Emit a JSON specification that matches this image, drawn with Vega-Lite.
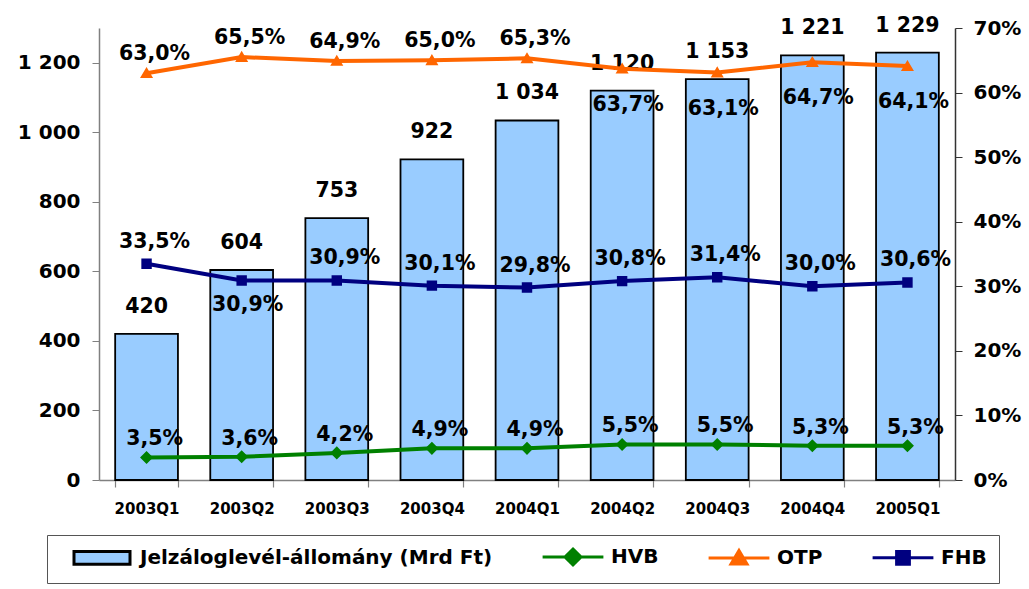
{
  "$schema": "https://vega.github.io/schema/vega-lite/v6.json",
  "width": 856,
  "height": 452,
  "autosize": {"type": "none"},
  "padding": {"left": 99, "top": 28, "right": 74, "bottom": 109},
  "background": "white",
  "config": {
    "locale": {"number": {"decimal": ",", "thousands": " ", "grouping": [3], "currency": ["", ""]}},
    "view": {"stroke": null},
    "font": "DejaVu Sans",
    "axis": {"labelFont": "DejaVu Sans", "labelFontWeight": "bold", "labelColor": "black", "grid": false, "title": null},
    "text": {"font": "DejaVu Sans", "fontWeight": "bold", "fontSize": 20.5, "color": "black"}
  },
  "datasets": {
    "stock": [
      {"quarter": "2003Q1", "series": "Jelzáloglevél-állomány (Mrd Ft)", "value": 420},
      {"quarter": "2003Q2", "series": "Jelzáloglevél-állomány (Mrd Ft)", "value": 604},
      {"quarter": "2003Q3", "series": "Jelzáloglevél-állomány (Mrd Ft)", "value": 753},
      {"quarter": "2003Q4", "series": "Jelzáloglevél-állomány (Mrd Ft)", "value": 922},
      {"quarter": "2004Q1", "series": "Jelzáloglevél-állomány (Mrd Ft)", "value": 1034},
      {"quarter": "2004Q2", "series": "Jelzáloglevél-állomány (Mrd Ft)", "value": 1120},
      {"quarter": "2004Q3", "series": "Jelzáloglevél-állomány (Mrd Ft)", "value": 1153},
      {"quarter": "2004Q4", "series": "Jelzáloglevél-állomány (Mrd Ft)", "value": 1221},
      {"quarter": "2005Q1", "series": "Jelzáloglevél-állomány (Mrd Ft)", "value": 1229}
    ],
    "share": [
      {"quarter": "2003Q1", "series": "OTP", "value": 0.630},
      {"quarter": "2003Q2", "series": "OTP", "value": 0.655},
      {"quarter": "2003Q3", "series": "OTP", "value": 0.649},
      {"quarter": "2003Q4", "series": "OTP", "value": 0.650},
      {"quarter": "2004Q1", "series": "OTP", "value": 0.653},
      {"quarter": "2004Q2", "series": "OTP", "value": 0.637},
      {"quarter": "2004Q3", "series": "OTP", "value": 0.631},
      {"quarter": "2004Q4", "series": "OTP", "value": 0.647},
      {"quarter": "2005Q1", "series": "OTP", "value": 0.641},
      {"quarter": "2003Q1", "series": "FHB", "value": 0.335},
      {"quarter": "2003Q2", "series": "FHB", "value": 0.309},
      {"quarter": "2003Q3", "series": "FHB", "value": 0.309},
      {"quarter": "2003Q4", "series": "FHB", "value": 0.301},
      {"quarter": "2004Q1", "series": "FHB", "value": 0.298},
      {"quarter": "2004Q2", "series": "FHB", "value": 0.308},
      {"quarter": "2004Q3", "series": "FHB", "value": 0.314},
      {"quarter": "2004Q4", "series": "FHB", "value": 0.300},
      {"quarter": "2005Q1", "series": "FHB", "value": 0.306},
      {"quarter": "2003Q1", "series": "HVB", "value": 0.035},
      {"quarter": "2003Q2", "series": "HVB", "value": 0.036},
      {"quarter": "2003Q3", "series": "HVB", "value": 0.042},
      {"quarter": "2003Q4", "series": "HVB", "value": 0.049},
      {"quarter": "2004Q1", "series": "HVB", "value": 0.049},
      {"quarter": "2004Q2", "series": "HVB", "value": 0.055},
      {"quarter": "2004Q3", "series": "HVB", "value": 0.055},
      {"quarter": "2004Q4", "series": "HVB", "value": 0.053},
      {"quarter": "2005Q1", "series": "HVB", "value": 0.053}
    ]
  },
  "encoding": {
    "x": {
      "field": "quarter",
      "type": "ordinal",
      "scale": {"paddingInner": 0.34, "paddingOuter": 0.17},
      "axis": {"orient": "bottom", "labelAngle": 0, "labelFontSize": 15, "tickBand": "extent", "tickSize": 7, "labelPadding": 14, "domainColor": "#808080", "tickColor": "#808080", "domainWidth": 1.5, "tickWidth": 1.2}
    }
  },
  "layer": [
    {
      "data": {"name": "stock"},
      "encoding": {
        "y": {
          "field": "value",
          "type": "quantitative",
          "scale": {"domain": [0, 1300], "nice": false},
          "axis": {"orient": "left", "values": [0, 200, 400, 600, 800, 1000, 1200], "format": ",.0f", "labelFontSize": 20, "domainColor": "#808080", "tickColor": "#808080", "tickSize": 7, "labelPadding": 12, "domainWidth": 1.5}
        }
      },
      "layer": [
        {
          "mark": {"type": "bar", "stroke": "black", "strokeWidth": 1.8},
          "encoding": {
            "fill": {
              "field": "series",
              "type": "nominal",
              "scale": {
                "domain": ["Jelzáloglevél-állomány (Mrd Ft)", "HVB", "OTP", "FHB"],
                "range": ["#99CCFF", "#008000", "#FF6600", "#000080"]
              },
              "legend": {
                "orient": "none",
                "legendX": -52,
                "legendY": 507,
                "direction": "horizontal",
                "title": null,
                "padding": 12,
                "columnPadding": 37,
                "labelFont": "DejaVu Sans",
                "labelFontWeight": "bold",
                "labelFontSize": 20,
                "labelColor": "black",
                "labelLimit": 600,
                "symbolSize": 256,
                "symbolStrokeWidth": 3,
                "symbolOffset": 33,
                "labelOffset": 28,
                "symbolOpacity": 1,
                "strokeColor": "#555555",
                "fillColor": "white"
              }
            }
          }
        },
        {
          "mark": {"type": "text", "baseline": "bottom", "dy": -17},
          "encoding": {"text": {"field": "value", "type": "quantitative", "format": ",.0f"}}
        }
      ]
    },
    {
      "data": {"name": "share"},
      "encoding": {
        "y": {
          "field": "value",
          "type": "quantitative",
          "scale": {"domain": [0, 0.7], "nice": false},
          "axis": {"orient": "right", "values": [0, 0.1, 0.2, 0.3, 0.4, 0.5, 0.6, 0.7], "format": ".0%", "labelFontSize": 20, "domainColor": "#333333", "tickColor": "#333333", "tickSize": 7, "labelPadding": 11, "domainWidth": 1.5}
        }
      },
      "layer": [
        {
          "mark": {"type": "line", "strokeWidth": 4},
          "encoding": {
            "stroke": {
              "field": "series",
              "type": "nominal",
              "scale": {
                "domain": ["Jelzáloglevél-állomány (Mrd Ft)", "HVB", "OTP", "FHB"],
                "range": ["#000000", "#008000", "#FF6600", "#000080"]
              }
            }
          }
        },
        {
          "mark": {"type": "point", "filled": true, "size": 170, "opacity": 1},
          "encoding": {
            "fill": {"field": "series", "type": "nominal"},
            "shape": {
              "field": "series",
              "type": "nominal",
              "scale": {
                "domain": ["Jelzáloglevél-állomány (Mrd Ft)", "HVB", "OTP", "FHB"],
                "range": [
                  "M-3.5,-0.8H3.5V0.8H-3.5Z",
                  "M-3.8,0H3.8M0,-1L1,0L0,1L-1,0Z",
                  "M-3.8,0H3.8M0,-0.95L1,0.75H-1Z",
                  "M-3.8,0H3.8M-0.8,-0.8H0.8V0.8H-0.8Z"
                ]
              }
            }
          }
        },
        {
          "transform": [{"filter": "datum.series == 'OTP' && datum.quarter <= '2004Q1'"}],
          "mark": {"type": "text", "baseline": "bottom", "dy": -9, "dx": 8},
          "encoding": {"text": {"field": "value", "type": "quantitative", "format": ".1%"}}
        },
        {
          "transform": [{"filter": "datum.series == 'OTP' && datum.quarter > '2004Q1'"}],
          "mark": {"type": "text", "baseline": "top", "dy": 26, "dx": 6},
          "encoding": {"text": {"field": "value", "type": "quantitative", "format": ".1%"}}
        },
        {
          "transform": [{"filter": "datum.series == 'FHB' && datum.quarter != '2003Q2'"}],
          "mark": {"type": "text", "baseline": "bottom", "dy": -12, "dx": 8},
          "encoding": {"text": {"field": "value", "type": "quantitative", "format": ".1%"}}
        },
        {
          "transform": [{"filter": "datum.series == 'FHB' && datum.quarter == '2003Q2'"}],
          "mark": {"type": "text", "baseline": "top", "dy": 15, "dx": 6},
          "encoding": {"text": {"field": "value", "type": "quantitative", "format": ".1%"}}
        },
        {
          "transform": [{"filter": "datum.series == 'HVB'"}],
          "mark": {"type": "text", "baseline": "bottom", "dy": -8, "dx": 8},
          "encoding": {"text": {"field": "value", "type": "quantitative", "format": ".1%"}}
        }
      ]
    }
  ],
  "resolve": {"scale": {"y": "independent"}}
}
